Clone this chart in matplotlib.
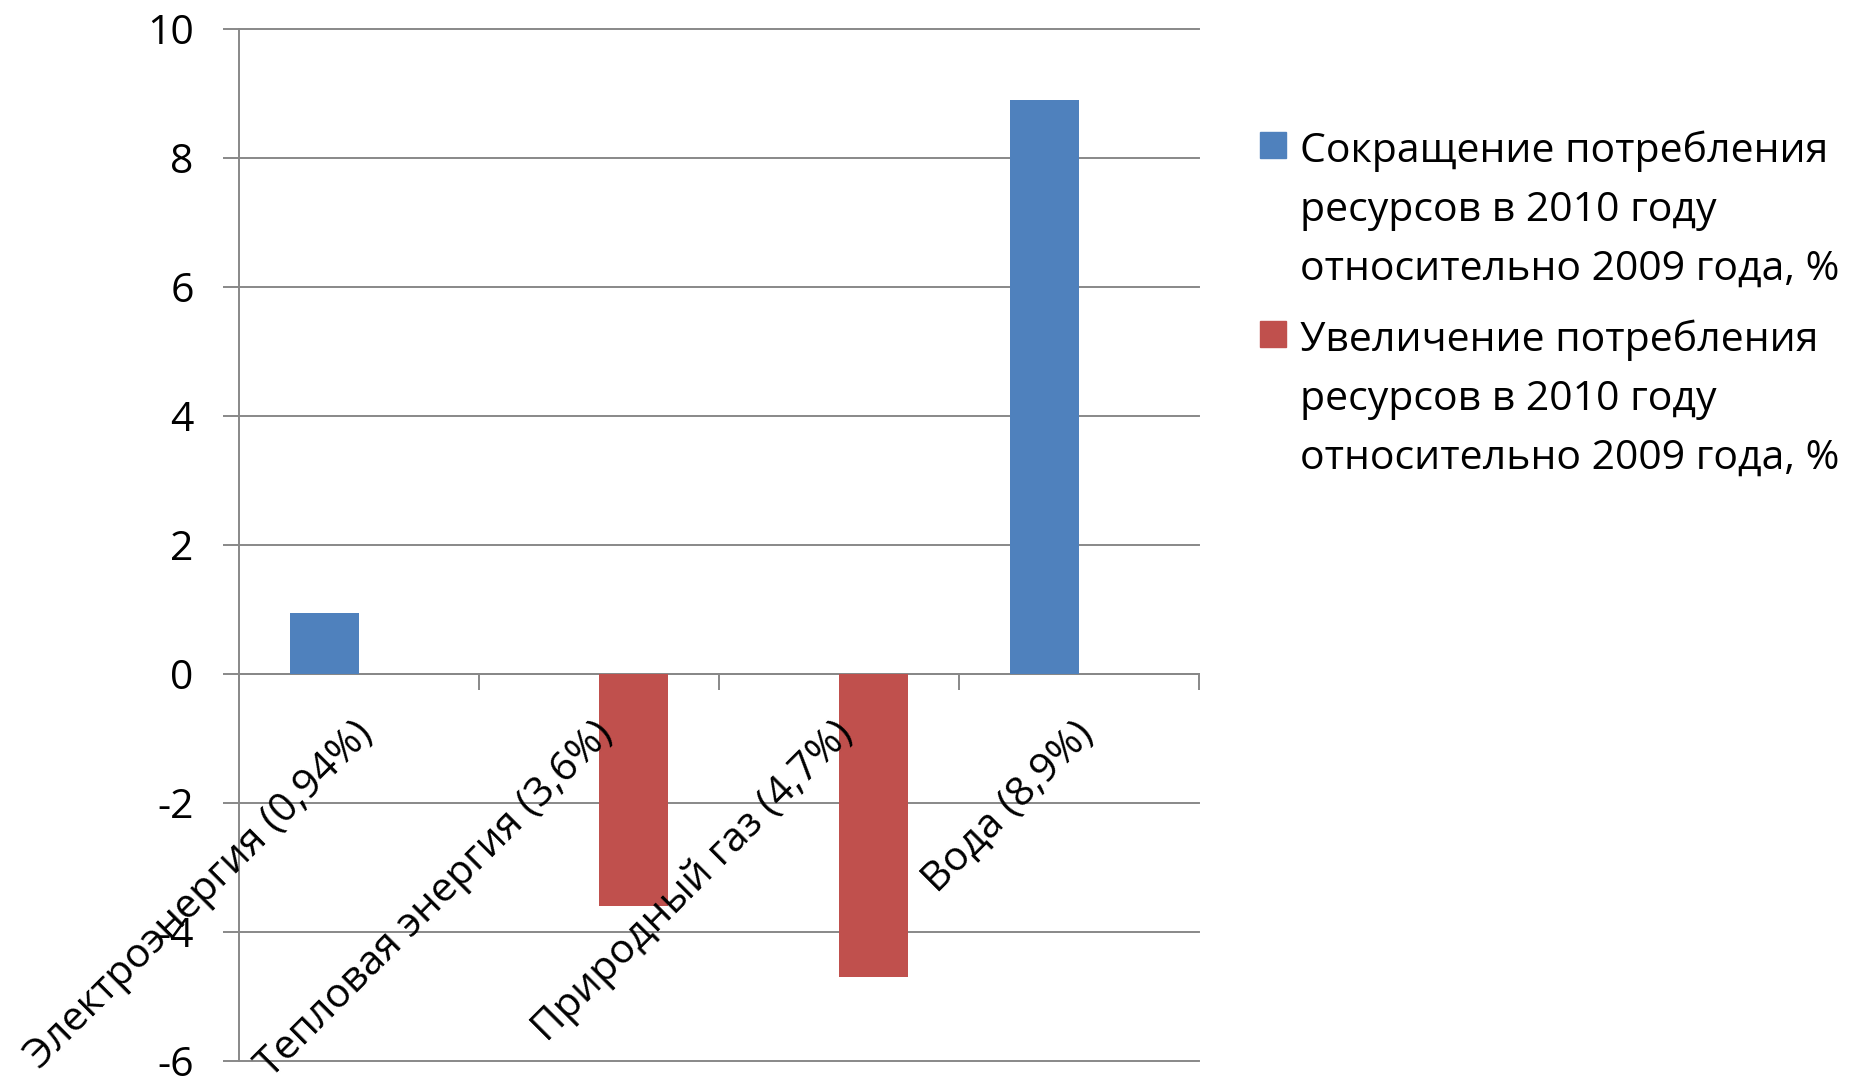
import matplotlib
matplotlib.use('Agg')
import matplotlib.pyplot as plt
from matplotlib.patches import Rectangle
import numpy as np

categories = ['Электроэнергия (0,94%)', 'Тепловая энергия (3,6%)',
              'Природный газ (4,7%)', 'Вода (8,9%)']
reduction = [0.94, 0, 0, 8.9]
increase = [0, -3.6, -4.7, 0]
series_labels = ['Сокращение потребления\nресурсов в 2010 году\nотносительно 2009 года, %',
                 'Увеличение потребления\nресурсов в 2010 году\nотносительно 2009 года, %']
series_colors = ['#4F81BD', '#C0504D']
yticks = [-6, -4, -2, 0, 2, 4, 6, 8, 10]

plt.rcParams['font.family'] = ['Open Sans', 'DejaVu Sans']
FS = 29.5
W, H = 1852, 1086
fig = plt.figure(figsize=(W / 100, H / 100), dpi=100)
ax = fig.add_axes([239 / W, 1 - 1061 / H, 960 / W, 1032 / H])

x = np.arange(len(categories))
w = 69 / 240
ax.bar(x - w / 2, reduction, w, color=series_colors[0], zorder=3)
ax.bar(x + w / 2, increase, w, color=series_colors[1], zorder=3)

ax.set_xlim(-0.5, len(categories) - 0.5)
ax.set_ylim(-6, 10)
ax.set_yticks(yticks)
ax.set_yticklabels([str(v) for v in yticks])

grid_c = '#888888'
ax.yaxis.grid(True, color=grid_c, lw=1.4, zorder=1)
for gl in ax.get_ygridlines():
    gl.set_clip_on(False)
ax.set_axisbelow(True)

for s in ['top', 'right']:
    ax.spines[s].set_visible(False)
ax.spines['left'].set_color(grid_c)
ax.spines['left'].set_linewidth(1.4)
ax.spines['bottom'].set_position(('data', 0))
ax.spines['bottom'].set_color(grid_c)
ax.spines['bottom'].set_linewidth(1.4)

ax.set_xticks(np.arange(len(categories) + 1) - 0.5)
ax.set_xticklabels([])
ax.tick_params(axis='x', length=11.5, width=1.4, color=grid_c, direction='out')
ax.tick_params(axis='y', length=11.5, width=1.4, color=grid_c, direction='out',
               pad=21, labelsize=FS, labelcolor='black')

for i, cat in enumerate(categories):
    ax.annotate(cat, xy=(i, 0), xycoords='data', xytext=(-6, -40),
                textcoords='offset pixels', rotation=45, ha='right', va='top',
                rotation_mode='anchor', fontsize=FS, color='black')

# legend
first_baseline = 162
line_step = 59
entry_step = 189
for k, (lab, col) in enumerate(zip(series_labels, series_colors)):
    y0 = first_baseline + k * entry_step
    fig.add_artist(Rectangle((1260 / W, 1 - (y0 - 4) / H), 26 / W, 26 / H,
                             transform=fig.transFigure, color=col))
    for j, line in enumerate(lab.split('\n')):
        fig.text(1300 / W, 1 - (y0 + j * line_step) / H, line, va='baseline',
                 ha='left', fontsize=FS, color='black')

fig.savefig('out.png', dpi=100)
